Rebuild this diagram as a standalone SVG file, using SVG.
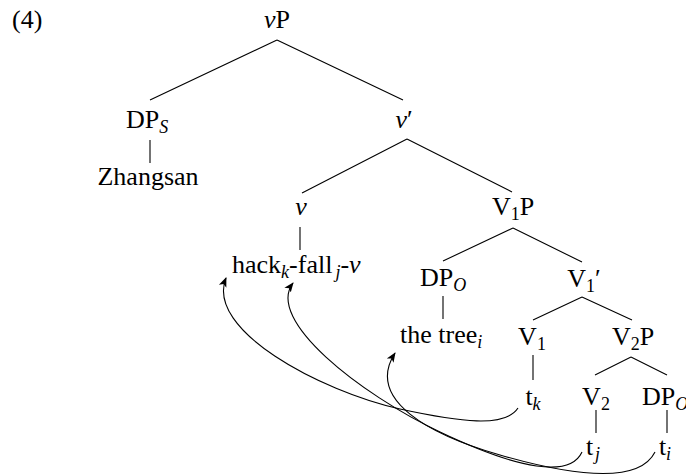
<svg xmlns="http://www.w3.org/2000/svg" width="686" height="476" viewBox="0 0 686 476">
<style>
text{font-family:"Liberation Serif","Times New Roman",serif;font-size:26px;fill:#000}
.m{text-anchor:middle}
.it{font-style:italic}
.sb{font-size:18px}
.e{stroke:#000;stroke-width:1.1;fill:none}
.a{stroke:#000;stroke-width:1.1;fill:none;marker-end:url(#ah)}
</style>
<defs>
<marker id="ah" viewBox="0 0 10 10" refX="9" refY="5" markerWidth="10" markerHeight="10" markerUnits="userSpaceOnUse" orient="auto">
<path d="M0,1 L10,5 L0,9 L2.5,5 Z" fill="#000"/>
</marker>
</defs>
<text x="12" y="28">(4)</text>
<g id="vP"><text class="m" x="277" y="28"><tspan class="it">v</tspan>P</text></g>
<g id="DPS"><text class="m" x="147" y="128">DP<tspan class="sb it" dy="5">S</tspan></text></g>
<g id="Zhangsan"><text class="m" x="148" y="185">Zhangsan</text></g>
<g id="vbar"><text class="m" x="404" y="128"><tspan class="it">v</tspan>′</text></g>
<g id="v"><text class="m" x="301" y="215" font-style="italic">v</text></g>
<g id="hack"><text x="232" y="273">hack<tspan class="sb it" dy="5">k</tspan><tspan dy="-5">-fall</tspan><tspan class="sb it" dy="5" dx="3">j</tspan><tspan dy="-5">-</tspan><tspan class="it">v</tspan></text></g>
<g id="V1P"><text class="m" x="513" y="215">V<tspan class="sb" dy="5">1</tspan><tspan dy="-5">P</tspan></text></g>
<g id="DPO"><text class="m" x="443" y="286">DP<tspan class="sb it" dy="5">O</tspan></text></g>
<g id="tree"><text x="400" y="343">the tree<tspan class="sb it" dy="5">i</tspan></text></g>
<g id="V1bar"><text class="m" x="584" y="287">V<tspan class="sb" dy="5">1</tspan><tspan dy="-5">′</tspan></text></g>
<g id="V1"><text class="m" x="532" y="345">V<tspan class="sb" dy="5">1</tspan></text></g>
<g id="V2P"><text class="m" x="633" y="345">V<tspan class="sb" dy="5">2</tspan><tspan dy="-5">P</tspan></text></g>
<g id="tk"><text class="m" x="533" y="405">t<tspan class="sb it" dy="5">k</tspan></text></g>
<g id="V2"><text class="m" x="596" y="405">V<tspan class="sb" dy="5">2</tspan></text></g>
<g id="DPO2"><text x="642" y="405">DP<tspan class="sb it" dy="5">O</tspan></text></g>
<g id="tj"><text class="m" x="593" y="455">t<tspan class="sb it" dy="5" dx="2">j</tspan></text></g>
<g id="ti"><text class="m" x="665" y="455">t<tspan class="sb it" dy="5">i</tspan></text></g>
<g id="connectors">
<path class="e" d="M277,40 L150,100 M277,40 L403,100"/>
<path class="e" d="M150,140 L150,163"/>
<path class="e" d="M407,139 L302,193 M407,139 L512,192"/>
<path class="e" d="M300,227 L300,250"/>
<path class="e" d="M513,228 L443,261 M513,228 L582,262"/>
<path class="e" d="M443,296 L443,319"/>
<path class="e" d="M582,297 L533,320 M582,297 L632,320"/>
<path class="e" d="M533,355 L533,380"/>
<path class="e" d="M631,357 L595,375 M631,357 L667,375"/>
<path class="e" d="M596,410 L596,433"/>
<path class="e" d="M667,410 L667,433"/>
<path class="a" d="M518,408 C505,428 460,422 400,409 C320,391 205,330 226,278"/>
<path class="a" d="M582,452 C570,478 520,470 440,432 C360,394 265,320 293,283"/>
<path class="a" d="M655,452 C640,482 580,478 500,455 C430,435 365,400 395,353"/>
</g>
</svg>
